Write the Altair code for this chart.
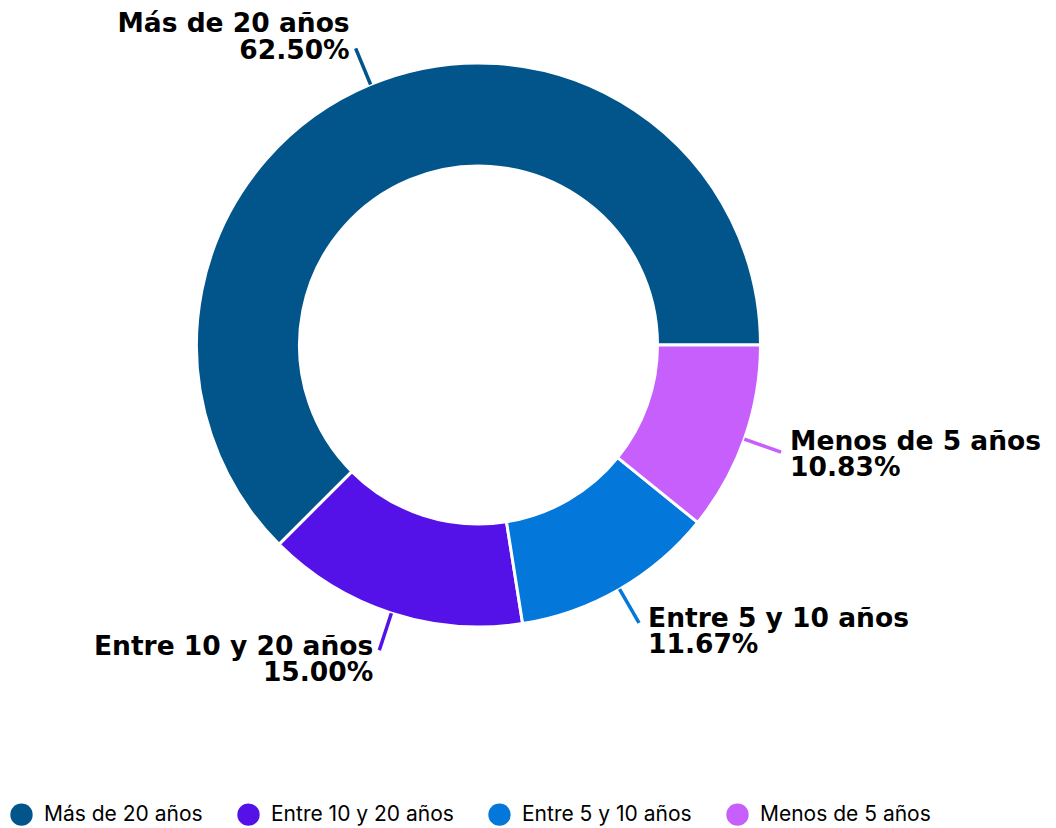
import math
import altair as alt
import pandas as pd

categories = ["Más de 20 años", "Entre 10 y 20 años", "Entre 5 y 10 años", "Menos de 5 años"]
values = [62.50, 15.00, 11.67, 10.83]
colors = ["#02558B", "#5512E8", "#0477DB", "#C65FFB"]

df = pd.DataFrame({"category": categories, "value": values})

CX, CY = 470.5, 337
R_OUT, R_IN = 282, 179
R_LINE = 321
START = math.pi / 2

color = alt.Color(
    "category:N",
    scale=alt.Scale(domain=categories, range=colors),
    legend=alt.Legend(
        title=None,
        orient="none",
        legendX=2,
        legendY=795,
        direction="horizontal",
        symbolType="circle",
        symbolSize=500,
        symbolStrokeWidth=0,
        labelFont="Inter",
        labelFontSize=21,
        labelColor="#000000",
        labelOffset=11,
        columnPadding=34,
        labelLimit=400,
    ),
    sort=categories,
)

base = alt.Chart(df)

arcs = base.mark_arc(
    innerRadius=R_IN, outerRadius=R_OUT, stroke="white", strokeWidth=3
).encode(
    theta=alt.Theta(
        "value:Q",
        stack=True,
        scale=alt.Scale(range=[START, START + 2 * math.pi]),
    ),
    order=alt.Order("value:Q", sort="ascending"),
    color=color,
    x=alt.value(CX),
    y=alt.value(CY),
)

geo = base.transform_joinaggregate(
    total="sum(value)"
).transform_window(
    cum="sum(value)", sort=[alt.SortField("value", order="ascending")]
).transform_calculate(
    mid=f"{START} + 2*PI*((datum.cum - datum.value) + datum.value/2)/datum.total"
).transform_calculate(
    x0=f"{CX} + {R_OUT}*sin(datum.mid)",
    y0=f"{CY} - {R_OUT}*cos(datum.mid)",
    x1=f"{CX} + {R_LINE}*sin(datum.mid)",
    y1=f"{CY} - {R_LINE}*cos(datum.mid)",
).transform_calculate(
    tx="datum.x1 + (sin(datum.mid) > 0 ? 9 : -6)",
    ty="datum.y1 - 6 - 11*cos(datum.mid)",
    label="[datum.category, format(datum.value, '.2f') + '%']",
    side="sin(datum.mid) > 0 ? 'right' : 'left'",
)

lines = geo.mark_rule(strokeWidth=3.5).encode(
    x=alt.X("x0:Q", scale=None, axis=None),
    x2="x1:Q",
    y=alt.Y("y0:Q", scale=None, axis=None),
    y2="y1:Q",
    color=alt.Color("category:N", scale=alt.Scale(domain=categories, range=colors), legend=None),
)

text_kw = dict(font="DejaVu Sans", fontWeight="bold", fontSize=26.5, lineHeight=26.5,
               color="#000000", baseline="alphabetic")

labels_right = geo.transform_filter("datum.side == 'right'").mark_text(
    align="left", **text_kw
).encode(
    x=alt.X("tx:Q", scale=None, axis=None),
    y=alt.Y("ty:Q", scale=None, axis=None),
    text=alt.Text("label:N"),
)

labels_left = geo.transform_filter("datum.side == 'left'").mark_text(
    align="right", **text_kw
).encode(
    x=alt.X("tx:Q", scale=None, axis=None),
    y=alt.Y("ty:Q", scale=None, axis=None),
    text=alt.Text("label:N"),
)

chart = alt.layer(arcs, lines, labels_right, labels_left).properties(
    width=1040, height=820, padding=0, autosize=alt.AutoSizeParams(type="none")
).configure_view(stroke=None)

chart.save("out.html", embed_options={"renderer": "svg", "actions": False})
